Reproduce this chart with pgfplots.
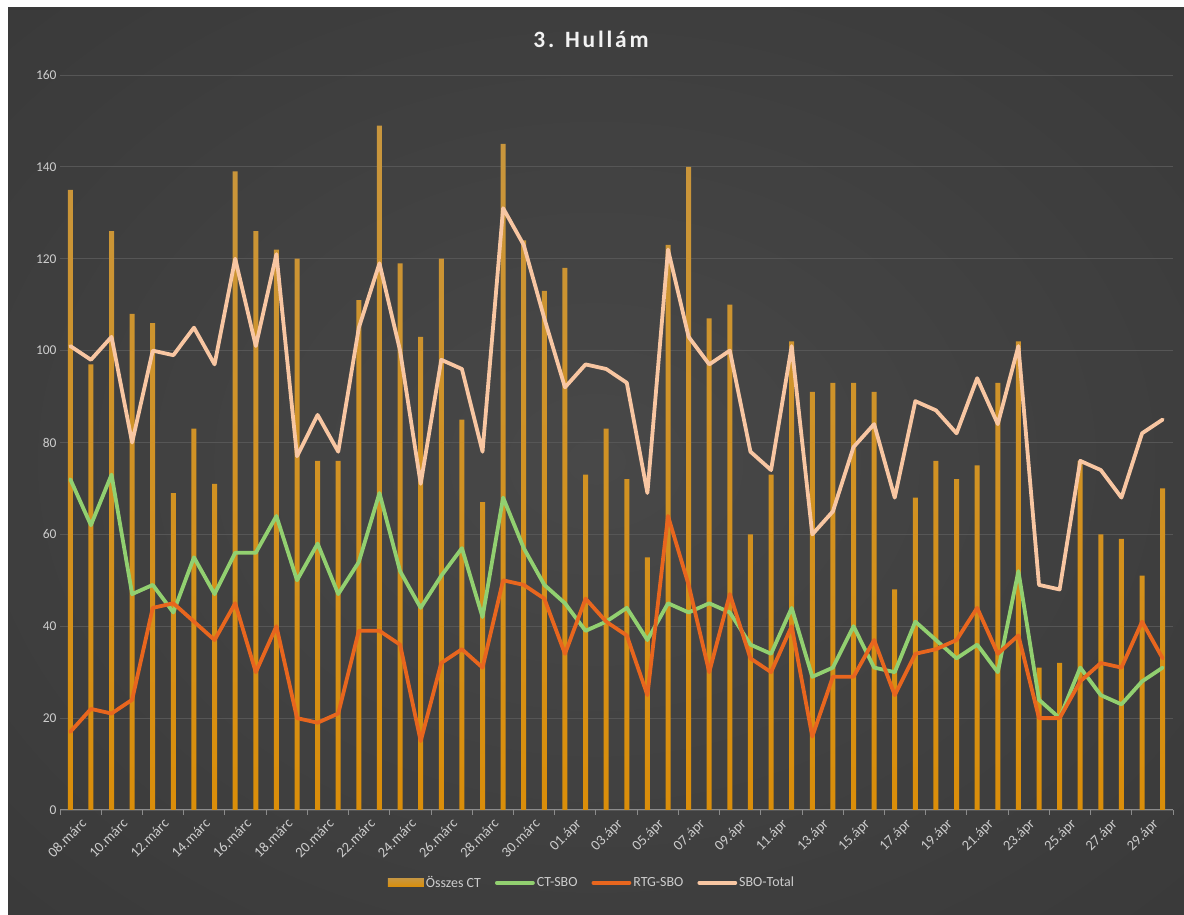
\documentclass[border=0pt]{standalone}
\usepackage{pgfplots}
\usepackage{pgfplotstable}
\pgfplotsset{compat=1.18}
\usepackage{fontspec}
\setmainfont{Carlito}
\newfontfamily\titlefont[LetterSpace=12]{Carlito}

\definecolor{bgIn}{RGB}{72,72,72}
\definecolor{bgMid}{RGB}{52,52,52}
\definecolor{bgOut}{RGB}{34,34,34}
\definecolor{gridcol}{RGB}{86,86,86}
\definecolor{axiscol}{RGB}{140,140,140}
\definecolor{txtcol}{RGB}{205,205,205}
\definecolor{titlecol}{RGB}{242,242,242}
\definecolor{barTop}{RGB}{200,150,62}
\definecolor{barBot}{RGB}{218,142,10}
\definecolor{barLeg}{RGB}{210,145,25}
\definecolor{ctsbo}{RGB}{146,208,112}
\definecolor{rtgsbo}{RGB}{232,102,30}
\definecolor{sbototal}{RGB}{248,198,162}

\pgfdeclareradialshading{chartbg}{\pgfpoint{0bp}{0bp}}{%
  color(0bp)=(bgIn); color(50bp)=(bgMid); color(71bp)=(bgOut)}

% day index (0 = 08.03.), total CT, CT-SBO, RTG-SBO, SBO total
\pgfplotstableread{
i  osszes ctsbo rtgsbo sbototal
0  135 72 17 101
1  97  62 22 98
2  126 73 21 103
3  108 47 24 80
4  106 49 44 100
5  69  43 45 99
6  83  55 41 105
7  71  47 37 97
8  139 56 45 120
9  126 56 30 101
10 122 64 40 121
11 120 50 20 77
12 76  58 19 86
13 76  47 21 78
14 111 54 39 105
15 149 69 39 119
16 119 52 36 100
17 103 44 15 71
18 120 51 32 98
19 85  57 35 96
20 67  42 31 78
21 145 68 50 131
22 124 57 49 123
23 113 49 46 107
24 118 45 34 92
25 73  39 46 97
26 83  41 41 96
27 72  44 38 93
28 55  37 25 69
29 123 45 64 122
30 140 43 49 103
31 107 45 30 97
32 110 43 47 100
33 60  36 33 78
34 73  34 30 74
35 102 44 40 101
36 91  29 16 60
37 93  31 29 65
38 93  40 29 79
39 91  31 37 84
40 48  30 25 68
41 68  41 34 89
42 76  37 35 87
43 72  33 37 82
44 75  36 44 94
45 93  30 34 84
46 102 52 38 101
47 31  24 20 49
48 32  20 20 48
49 76  31 28 76
50 60  25 32 74
51 59  23 31 68
52 51  28 41 82
53 70  31 33 85
}\datatable

\begin{document}
\begin{tikzpicture}
\useasboundingbox (0bp,0bp) rectangle (1184bp,915bp);
\fill[white] (0bp,0bp) rectangle (1184bp,915bp);
\shade[shading=chartbg] (8bp,0bp) rectangle (1184bp,907bp);

\node[font=\titlefont\bfseries\fontsize{23.5}{27}\selectfont, text=titlecol]
  at (591bp,876bp) {3. Hullám};

\begin{axis}[
  at={(60bp,105bp)}, anchor=south west,
  scale only axis, width=1113bp, height=735bp,
  xmin=-0.5, xmax=53.5, ymin=0, ymax=160,
  ytick={0,20,...,160},
  ymajorgrids, grid style={gridcol, line width=0.8bp},
  axis x line*=bottom, axis y line*=left,
  y axis line style={draw=none},
  x axis line style={draw=axiscol, line width=1bp, -},
  ytick style={draw=none},
  xtick={0,2,...,52},
  xticklabels={08.márc,10.márc,12.márc,14.márc,16.márc,18.márc,20.márc,22.márc,24.márc,26.márc,28.márc,30.márc,01.ápr,03.ápr,05.ápr,07.ápr,09.ápr,11.ápr,13.ápr,15.ápr,17.ápr,19.ápr,21.ápr,23.ápr,25.ápr,27.ápr,29.ápr},
  % tick marks sit on the category boundaries, every second day
  minor xtick={-0.5,1.5,...,53.5},
  major tick length=0pt, minor tick length=5bp, tick align=outside,
  every minor tick/.append style={draw=axiscol, line width=0.8bp},
  ticklabel style={font=\fontsize{13.5}{15}\selectfont, text=txtcol},
  xticklabel style={font=\fontsize{14.5}{16}\selectfont,
    xshift=10bp, yshift=-6bp, rotate=45, anchor=north east, inner sep=1bp},
  /pgf/number format/assume math mode=true,
  legend columns=4,
  legend style={at={(0.478,-0.099)}, anchor=center, draw=none, fill=none,
    text=txtcol, font=\fontsize{14}{16}\selectfont,
    /tikz/every even column/.append style={column sep=12bp}},
  legend image code/.code={\draw[#1] (0bp,0bp) -- (36bp,0bp);},
]
\addplot[ybar, bar width=5bp, bar shift=0pt, draw=none,
  top color=barTop, bottom color=barBot,
  legend image code/.code={\fill[barLeg] (0bp,-4bp) rectangle (36bp,4bp);}]
  table[x=i, y=osszes] {\datatable};
\addlegendentry{Összes CT}
\addplot[ctsbo, line width=3.8bp, line join=round, line cap=round, mark=none]
  table[x=i, y=ctsbo] {\datatable};
\addlegendentry{CT-SBO}
\addplot[rtgsbo, line width=3.8bp, line join=round, line cap=round, mark=none]
  table[x=i, y=rtgsbo] {\datatable};
\addlegendentry{RTG-SBO}
\addplot[sbototal, line width=3.8bp, line join=round, line cap=round, mark=none]
  table[x=i, y=sbototal] {\datatable};
\addlegendentry{SBO-Total}
\end{axis}
\end{tikzpicture}
\end{document}
